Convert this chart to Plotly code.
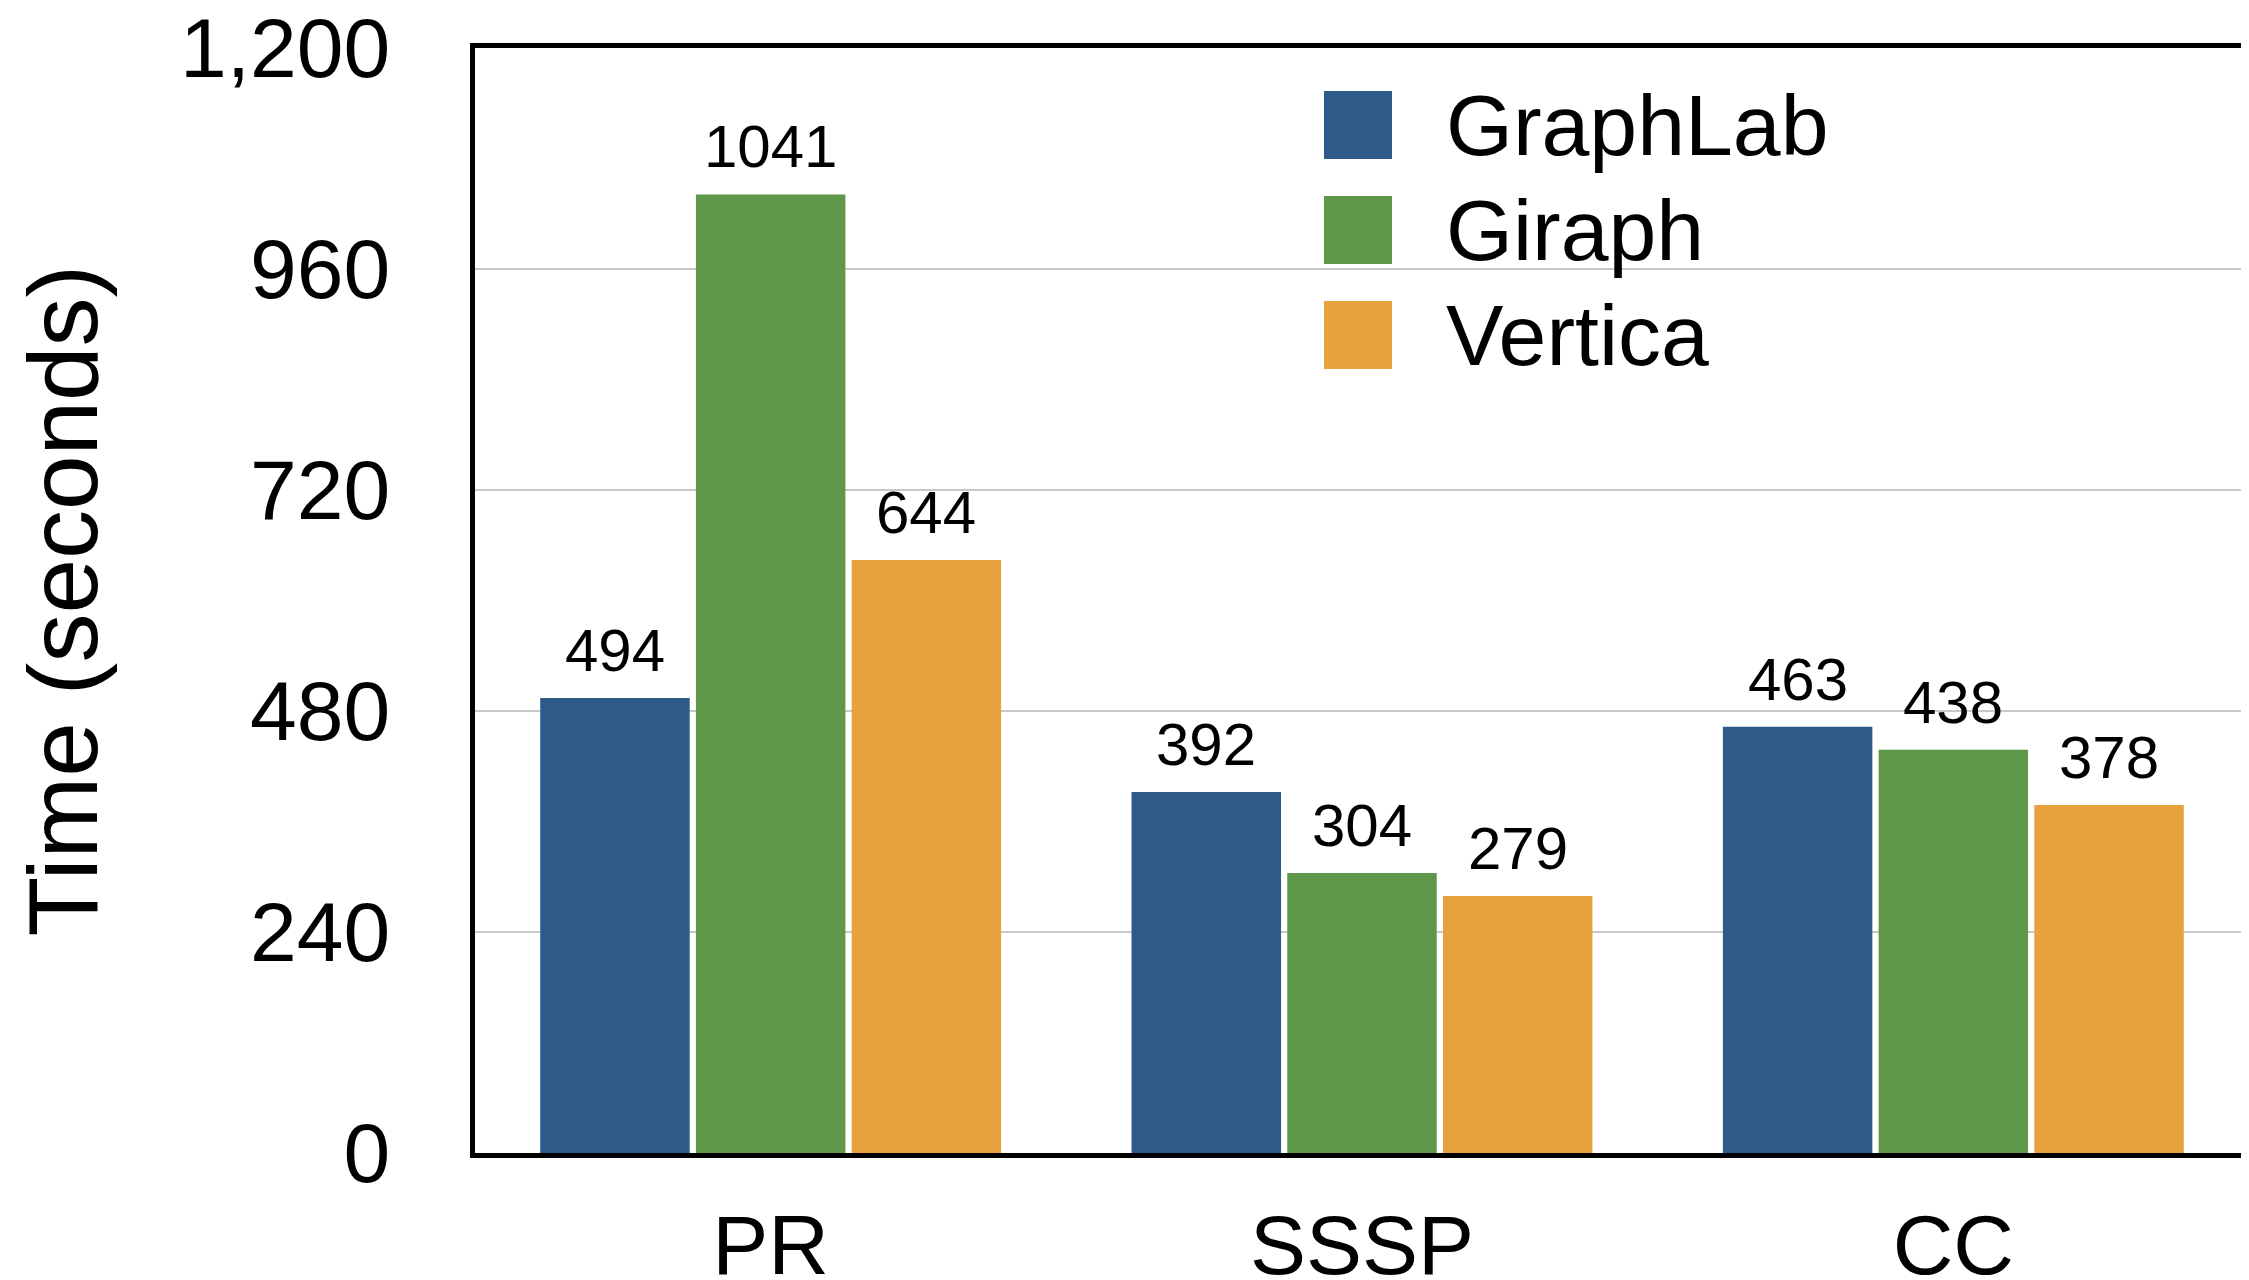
import plotly.graph_objects as go

categories = ["PR", "SSSP", "CC"]
series_names = ["GraphLab", "Giraph", "Vertica"]
graphlab = [494, 392, 463]
giraph = [1041, 304, 438]
vertica = [644, 279, 378]
series_values = [graphlab, giraph, vertica]
colors = ["#2E5A8A", "#5E974A", "#E7A23D"]
y_ticks = [0, 240, 480, 720, 960, 1200]

FONT = "Liberation Sans, Helvetica, Arial, sans-serif"

# page body has an 8px margin; size the figure so it fills the window
OFF = 8
W, H = 2249 - OFF, 1280 - OFF
L, T = 475 - OFF, 48 - OFF
R, B = 0, H - (1153 - OFF)
BARGAP, GROUPGAP = 0.21, 0.04

fig = go.Figure()
for name, vals, col in zip(series_names, series_values, colors):
    fig.add_trace(go.Bar(
        x=categories, y=vals, name=name,
        marker=dict(color=col, line=dict(width=0)),
        showlegend=False,
    ))

plot_w = W - L - R
plot_h = H - T - B
shapes, annotations = [], []

# value labels above each bar (shifted to the bar's slot within its group)
slot_px = (plot_w / len(categories)) * (1 - BARGAP) / len(series_names)
for i, vals in enumerate(series_values):
    for cat, v in zip(categories, vals):
        annotations.append(dict(
            text=str(v), x=cat, y=v, xref="x", yref="y",
            xshift=(i - (len(series_names) - 1) / 2) * slot_px, yshift=12,
            xanchor="center", yanchor="bottom", showarrow=False,
            font=dict(size=60, color="black", family=FONT)))

# manual legend with large squares (page coordinates converted to figure)
sq = 68
row_centers_px = [125 - OFF, 230 - OFF, 335 - OFF]
sq_x0_px, text_x_px = 1324 - OFF, 1444 - OFF
for name, col, cy in zip(series_names, colors, row_centers_px):
    yc = (H - B - cy) / plot_h
    half = (sq / 2) / plot_h
    shapes.append(dict(type="rect", xref="paper", yref="paper",
                       x0=(sq_x0_px - L) / plot_w, x1=(sq_x0_px + sq - L) / plot_w,
                       y0=yc - half, y1=yc + half,
                       fillcolor=col, line=dict(width=0), layer="above"))
    annotations.append(dict(text=name, xref="paper", yref="paper",
                            x=(text_x_px - L) / plot_w, y=yc,
                            xanchor="left", yanchor="middle", showarrow=False,
                            font=dict(size=86, color="black", family=FONT)))

annotations.append(dict(text="Time (seconds)", xref="paper", yref="paper",
                        x=(62 - OFF - L) / plot_w, y=0.5, textangle=-90,
                        xanchor="center", yanchor="middle", showarrow=False,
                        font=dict(size=98, color="black", family=FONT)))

fig.update_layout(
    width=W, height=H,
    margin=dict(l=L, r=R, t=T, b=B, pad=0, autoexpand=False),
    paper_bgcolor="white", plot_bgcolor="white",
    barmode="group", bargap=BARGAP, bargroupgap=GROUPGAP,
    font=dict(family=FONT, color="black"),
    shapes=shapes, annotations=annotations,
    showlegend=False,
)
fig.update_xaxes(
    range=[-0.5, 2.5], showline=True, linecolor="black", linewidth=5, mirror=True,
    showgrid=False, ticks="", tickfont=dict(size=84, family=FONT, color="black"),
    ticklabelstandoff=15, zeroline=False, automargin=False,
    ticklabeloverflow="allow",
)
fig.update_yaxes(
    range=[0, 1200], tickvals=y_ticks, tickformat=",",
    showline=True, linecolor="black", linewidth=5, mirror=True,
    showgrid=True, gridcolor="#c8c8c8", gridwidth=2, zeroline=False,
    ticks="", tickfont=dict(size=84, family=FONT, color="black"),
    ticklabelstandoff=63, automargin=False, ticklabeloverflow="allow",
)

fig.write_html("out.html")
